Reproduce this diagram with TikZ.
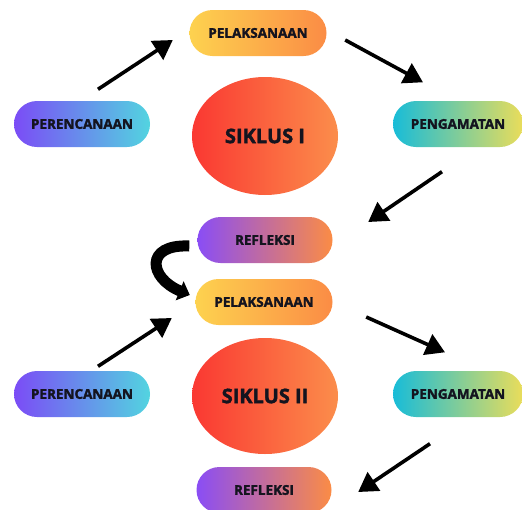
\documentclass[tikz,border=0pt]{standalone}
\usepackage{fontspec}
\setmainfont{Open Sans}[BoldFeatures={FakeBold=2}]
\usetikzlibrary{shapes.misc,arrows.meta,calc}
\definecolor{txt}{HTML}{14141F}
\definecolor{yel}{HTML}{FDD24F}
\definecolor{org}{HTML}{FB8C45}
\definecolor{pur}{HTML}{7B4CF6}
\definecolor{cyn}{HTML}{52D4E0}
\definecolor{cyn2}{HTML}{18BCD8}
\definecolor{yel2}{HTML}{EADD5A}
\definecolor{pur2}{HTML}{8A4DF5}
\definecolor{red1}{HTML}{FA3832}
\definecolor{org2}{HTML}{FB8D4B}
\begin{document}
\begin{tikzpicture}[x=1pt,y=-1pt,
  pill/.style={rounded rectangle, minimum height=46pt, inner sep=0pt, text=txt,
     font=\fontsize{13.5}{14}\selectfont\bfseries},
  pelstyle/.style={pill, minimum width=137pt, left color=yel, right color=org},
  perstyle/.style={pill, minimum width=136pt, left color=pur, right color=cyn},
  penstyle/.style={pill, minimum width=130pt, left color=cyn2, right color=yel2},
  refstyle/.style={pill, minimum width=135pt, left color=pur2, right color=org},
  cyclabel/.style={text=txt, font=\fontsize{20}{22}\selectfont\bfseries},
  cycfill/.style={left color=red1, right color=org2},
  arr/.style={line width=3.6pt, -{Triangle[length=19pt,width=22pt]}},
  curv/.style={line width=11pt, -{Triangle[length=11pt,width=20pt]}}
]
\useasboundingbox (0,0) rectangle (522,509);
% cycle I
\node[pelstyle] (pel1) at (258,33) {PELAKSANAAN};
\node[perstyle] (per1) at (82,124) {PERENCANAAN};
\node[penstyle] (pen1) at (458,124) {PENGAMATAN};
\path[cycfill] (265,136) ellipse [x radius=73, y radius=59];
\node[cyclabel] (cyc1) at (265,136) {SIKLUS I};
\node[refstyle] (ref1) at (265,240) {REFLEKSI};
% cycle II
\node[pelstyle] (pel2) at (264,302) {PELAKSANAAN};
\node[perstyle] (per2) at (82,394) {PERENCANAAN};
\node[penstyle] (pen2) at (458,394) {PENGAMATAN};
\path[cycfill] (265,396) ellipse [x radius=73, y radius=58];
\node[cyclabel] (cyc2) at (265,396) {SIKLUS II};
\node[refstyle] (ref2) at (264,490) {REFLEKSI};
% arrows
\draw[arr] ($(per1.north)+(16,-11.5)$) -- ($(pel1.west)+(-16.5,7)$);
\draw[arr] ($(pel1.east)+(18.5,7)$) -- ($(pen1.north)+(-35,-18.5)$);
\draw[arr] ($(pen1.south)+(-16,24.5)$) -- ($(ref1.east)+(35.5,-18)$);
\draw[arr] ($(per2.north)+(16,-4.5)$) -- ($(pel2.west)+(-23.5,16)$);
\draw[arr] ($(pel2.east)+(33.5,15)$) -- ($(pen2.north)+(-13,-18.5)$);
\draw[arr] ($(pen2.south)+(-28,26.5)$) -- ($(ref2.east)+(26.5,2)$);
\draw[curv] ($(ref1.west)+(-8,6)$) .. controls +(-45,-2) and +(-41,-17) .. ($(pel2.west)+(-5.5,-7)$);
\end{tikzpicture}
\end{document}
